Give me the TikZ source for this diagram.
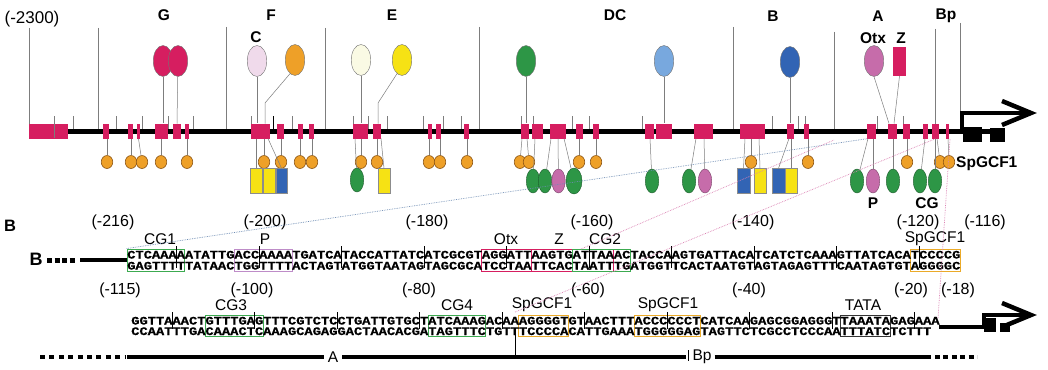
\documentclass[tikz,border=0pt]{standalone}
\usepackage{fontspec}
\setmainfont{Liberation Sans}
\newfontfamily\seqfont{Liberation Mono}[FakeStretch=1.1955,FakeBold=0.6]
\usetikzlibrary{shapes.geometric}
\definecolor{crim}{RGB}{214,30,96}
\definecolor{org}{RGB}{238,160,40}
\definecolor{orgd}{RGB}{140,85,20}
\definecolor{grn}{RGB}{45,150,70}
\definecolor{mauve}{RGB}{198,108,170}
\definecolor{lpink}{RGB}{240,218,235}
\definecolor{cream}{RGB}{250,250,228}
\definecolor{yel}{RGB}{246,226,20}
\definecolor{lblue}{RGB}{120,168,222}
\definecolor{blu}{RGB}{50,100,180}
\definecolor{gline}{RGB}{125,125,125}
\definecolor{pboxc}{RGB}{190,140,200}
\definecolor{oboxc}{RGB}{235,170,40}
\definecolor{gboxc}{RGB}{60,170,80}
\definecolor{dotblue}{RGB}{110,140,180}
\definecolor{dotpink}{RGB}{220,130,180}
\newcommand\pbx[3]{\node[pb,minimum width={#3pt-#2pt}] (#1) at ({(#2+#3)/2},131) {};}
\newcommand\seqbox[6]{\node[sbx,draw=#2,minimum width={#4pt-#3pt},minimum height=#6pt] (#1) at ({(#3+#4)/2},#5) {};}
\begin{document}
\begin{tikzpicture}[x=1pt,y=-1pt,
 pb/.style={rectangle,fill=crim,inner sep=0pt,minimum height=15pt},
 ell/.style={ellipse,draw=black!55,line width=0.4pt,inner sep=0pt,minimum width=19.5pt,minimum height=31pt},
 orb/.style={ellipse,fill=org,draw=orgd,line width=0.6pt,inner sep=0pt,minimum width=11.5pt,minimum height=13pt},
 gel/.style={ellipse,fill=grn,draw=grn!60!black,line width=0.4pt,inner sep=0pt,minimum width=13.5pt,minimum height=24pt},
 rb/.style={rectangle,draw=black!45,line width=0.4pt,inner sep=0pt,minimum width=12pt,minimum height=25pt},
 cn/.style={draw=gline,line width=0.5pt},
 modl/.style={draw=gline,line width=0.6pt},
 tkl/.style={draw=gline,line width=0.5pt},
 mlab/.style={font=\bfseries\fontsize{15.5}{16}\selectfont,inner sep=0pt},
 plab/.style={font=\fontsize{16}{17}\selectfont,inner sep=0pt},
 flab/.style={font=\fontsize{15.5}{16}\selectfont,inner sep=0pt},
 sq/.style={font=\seqfont\bfseries\fontsize{11.5}{11}\selectfont,inner sep=0pt,anchor=base west},
 sbx/.style={inner sep=0pt,line width=0.9pt,rectangle},
 stk/.style={draw=black,line width=0.7pt},
 dotb/.style={draw=dotblue,line width=0.7pt,densely dotted},
 dotp/.style={draw=dotpink,line width=0.7pt,densely dotted}]
\useasboundingbox (0,0) rectangle (1048,369);
\fill[white] (0,0) rectangle (1048,369);

% ---------- panel A (top) ----------
\node[plab,font=\fontsize{17}{18}\selectfont] (p2300) at (32,19) {(-2300)};
\node[mlab] (mG) at (164,15) {G};
\node[mlab] (mF) at (271,15) {F};
\node[mlab] (mE) at (392,15) {E};
\node[mlab] (mDC) at (615,15) {DC};
\node[mlab] (mB) at (773,16) {B};
\node[mlab] (mA) at (878,16) {A};
\node[mlab] (mBp) at (946,16) {Bp};

% module boundaries
\foreach \x/\t in {29/28,98/28,226/27,325/28,479/27,733/27,834/32,935/29,960/23}
  \draw[modl] (\x,\t) -- (\x,131);
% small ticks
\foreach \x in {54,73,116,142,168,193,251,292,353,368,387,423,443,461,521,533,572,589,642,772,798,805,877,903}
  \draw[tkl] (\x,116) -- (\x,131);
\draw[line width=0.8pt] (273,116) -- (273,131);

% main line and promoter arrow
\draw[line width=5pt] (29,131) -- (1005,131);
\draw[line width=4pt] (962,133) -- (962,113) -- (1026,113);
\draw[line width=4.5pt,miter limit=20] (1002,101) -- (1031,113) -- (1002,125);
\fill (963,127) rectangle (982,142);
\fill (990,128) rectangle (1005,142);

% boxes on the line
\pbx{b1}{29}{68}
\draw[tkl] (54,116) -- (54,138);
\pbx{b3}{103}{109}
\pbx{b4}{128}{133}
\pbx{b5}{137}{140}
\pbx{b6}{155}{168}
\pbx{b7}{173}{181}
\pbx{b8}{185}{189}
\pbx{b9}{251}{261}
\pbx{b10}{261}{270}
\pbx{b11}{277}{284}
\pbx{b12}{298}{303}
\pbx{b13}{309}{314}
\pbx{b14}{353}{368}
\pbx{b15}{373}{381}
\pbx{b16}{428}{432}
\pbx{b17}{436}{441}
\pbx{b18}{464}{469}
\pbx{b19}{521}{529}
\pbx{b20}{532}{543}
\pbx{b21}{550}{566}
\pbx{b22}{576}{583}
\pbx{b23}{593}{599}
\pbx{b24}{645}{654}
\pbx{b25}{656}{672}
\pbx{b26}{694}{713}
\pbx{b27}{740}{765}
\pbx{b28}{787}{794}
\pbx{b29}{804}{809}
\pbx{b30}{867}{876}
\pbx{b31}{888}{897}
\pbx{b32}{903}{910}
\pbx{b33}{923}{928}
\pbx{b34}{932}{939}
\pbx{b35}{946}{949}

% upper factors
\node[ell,fill=crim] (eG1) at (163,61) {};
\node[ell,fill=crim] (eG2) at (178,61) {};
\node[mlab] (lC) at (256,37) {C};
\node[ell,fill=lpink] (eC) at (257,61) {};
\node[ell,fill=org] (eF) at (295,60) {};
\node[ell,fill=cream] (eE1) at (361,60) {};
\node[ell,fill=yel] (eE2) at (402,60) {};
\node[ell,fill=grn] (eD1) at (526,61) {};
\node[ell,fill=lblue] (eD2) at (664,61) {};
\node[ell,fill=blu] (eB) at (790,62) {};
\node[mlab] (lOtx) at (873,38) {Otx};
\node[ell,fill=mauve] (eO) at (874,61) {};
\node[mlab] (lZ) at (901,38) {Z};
\node[rectangle,fill=crim,inner sep=0pt,minimum width=13pt,minimum height=29pt] (eZ) at (899.5,61.5) {};

\draw[cn] (eG1) -- (eG1 |- b6.north);
\draw[cn] (eG2) -- (177,123.5);
\draw[cn] (eC) -- (eC |- b9.north);
\draw[cn] (eF.250) -- (265,103) -- (265,123.5);
\draw[cn] (eE1) -- (eE1 |- b14.north);
\draw[cn] (eE2.250) -- (378,103) -- (378,123.5);
\draw[cn] (eD1) -- (eD1 |- b19.north);
\draw[cn] (eD2) -- (eD2 |- b25.north);
\draw[cn] (eB) -- (eB |- b28.north);
\draw[cn] (eO.south) -- (889,123.5);
\draw[cn] (eZ.south) -- (894,123.5);

% lower factors
\foreach \n/\x in {o1/107,o2/131,o3/142,o4/161,o5/187,o6/264,o7/281,o8/300,o9/312,o10/361,o11/377,o12/429,o13/440,o14/467,o15/520,o16/529,o17/579,o18/596,o19/751,o20/808,o21/907,o22/940,o23/949}
  \node[orb] (\n) at (\x,162) {};
\node[rb,fill=yel] (rF1) at (256,181) {};
\node[rb,fill=yel] (rF2) at (269,181) {};
\node[rb,fill=blu,minimum width=11pt] (rF3) at (281.5,181) {};
\node[gel] (gE) at (357,180) {};
\node[rb,fill=yel] (rE) at (384,181) {};
\node[gel] (g2) at (533,181) {};
\node[gel] (g3) at (545,181) {};
\node[gel,fill=mauve,draw=mauve!60!black] (m1) at (558.5,181) {};
\node[gel,minimum width=16pt,minimum height=26pt] (g4) at (574,181) {};
\node[gel] (g5) at (652,181) {};
\node[gel] (g6) at (689,181) {};
\node[gel,fill=mauve,draw=mauve!60!black] (m2) at (705,181) {};
\node[rb,fill=blu,minimum width=13pt] (rB1) at (743.5,181) {};
\node[rb,fill=yel] (rB2) at (760,181) {};
\node[rb,fill=blu,minimum width=13pt] (rB3) at (778.5,181) {};
\node[rb,fill=yel,minimum width=12pt] (rB4) at (791,181) {};
\node[gel] (g7) at (857,181) {};
\node[gel,fill=mauve,draw=mauve!60!black] (m3) at (873,181) {};
\node[gel] (g8) at (893,181) {};
\node[gel] (g9) at (920,181) {};
\node[gel] (g10) at (935,181) {};
\node[mlab,anchor=west] (lSp) at (956,164) {SpGCF1};
\node[mlab] (lP) at (873,203) {P};
\node[mlab] (lCG) at (927,203) {CG};

\foreach \o/\b in {o1/b3,o2/b4,o4/b6,o5/b8,o6/b10,o7/b11,o8/b12,o9/b13,o10/b14,o11/b15,o12/b16,o13/b17,o14/b18,o17/b22,o18/b23,o19/b27,o20/b29,o21/b32}
  \draw[cn] (\o |- \b.south) -- (\o);
\draw[cn] (b5.south) -- (o3);
\draw[cn] (rF1 |- b9.south) -- (rF1.north);
\draw[cn] (268,138.5) -- (rF3.north);
\draw[cn] (355,138.5) -- (gE);
\draw[cn] (381,138.5) -- (rE.north);
\draw[cn] (522,138.5) -- (o15);
\draw[cn] (527,138.5) -- (o16);
\draw[cn] (535,138.5) -- (g2);
\draw[cn] (551,138.5) -- (g3);
\draw[cn] (558,138.5) -- (m1);
\draw[cn] (564,138.5) -- (g4);
\draw[cn] (650,138.5) -- (g5);
\draw[cn] (696,138.5) -- (g6);
\draw[cn] (704,138.5) -- (m2);
\draw[cn] (745,138.5) -- (rB1.north);
\draw[cn] (759,138.5) -- (rB2.north);
\draw[cn] (789,138.5) -- (rB3.north);
\draw[cn] (791,138.5) -- (rB4.north);
\draw[cn] (868,138.5) -- (g7);
\draw[cn] (873,138.5) -- (m3);
\draw[cn] (893,138.5) -- (g8);
\draw[cn] (925,138.5) -- (g9);
\draw[cn] (935,138.5) -- (g10);
\draw[cn] (937,138.5) -- (o22);
\draw[cn] (948,138.5) -- (o23);

% ---------- panel B (sequence) ----------
\node[mlab,font=\bfseries\fontsize{16.5}{17}\selectfont] (panB) at (10,226) {B};
\node[mlab,font=\bfseries\fontsize{18}{18}\selectfont] (rowB) at (36,259) {B};
\draw[line width=5pt,dash pattern=on 5pt off 2.5pt] (47,260) -- (76,260);
\draw[line width=4pt] (80,260) -- (127,260);

% row 1 boxes
\seqbox{cg1}{gboxc}{127}{184.75}{260}{22}
\seqbox{bxP}{pboxc}{234.25}{292}{260}{22}
\seqbox{bxOtx}{crim}{481.75}{531.25}{260}{22}
\seqbox{bxZ}{crim}{531.25}{613.75}{260}{22}
\seqbox{cg2}{gboxc}{572.5}{630.25}{260}{22}
\seqbox{sp1}{oboxc}{910.75}{960.25}{260}{22}
% row 1 sequence
\node[sq] (s1t) at (127,258.5) {CTCAAAAATATTGACCAAAATGATCATACCATTATCATCGCGTAGGATTAAGTGATTAAACTACCAAGTGATTACATCATCTCAAAGTTATCACATCCCCG};
\node[sq] (s1b) at (127,269.5) {GAGTTTTTATAACTGGTTTTACTAGTATGGTAATAGTAGCGCATCCTAATTCACTAATTTGATGGTTCACTAATGTAGTAGAGTTTCAATAGTGTAGGGGC};
\foreach \i in {6,16,...,96} \draw[stk] ({127+\i*8.25},246) -- ({127+\i*8.25},268);
% row 1 labels
\foreach \n/\x/\t in {q216/113/(-216),q200/265/(-200),q180/427/(-180),q160/592/(-160),q140/753/(-140),q120/918/(-120),q116/985/(-116)}
  \node[plab] (\n) at (\x,222) {\t};
\foreach \n/\x/\t in {fCG1/160/CG1,fP/265/P,fOtx/506/Otx,fZ/559/Z,fCG2/605/CG2,fSp1/935/SpGCF1}
  \node[flab] (\n) at (\x,239) {\t};

% row 2 boxes
\seqbox{cg3}{gboxc}{205.25}{263}{325.5}{21}
\seqbox{cg4}{gboxc}{428}{485.75}{325.5}{21}
\seqbox{sp2}{oboxc}{518.75}{568.25}{325.5}{21}
\seqbox{sp3}{oboxc}{634.25}{700.25}{325.5}{21}
\seqbox{tata}{black!80}{840.5}{890}{325.5}{21}
% row 2 sequence
\node[sq] (s2t) at (131,324.5) {GGTTAAACTGTTTGAGTTTCGTCTCCTGATTGTGCTATCAAAGACAAAGGGGTGTAACTTTACCCCCCTCATCAAGAGCGGAGGGTTAAATAGAGAAA};
\node[sq] (s2b) at (131,335) {CCAATTTGACAAACTCAAAGCAGAGGACTAACACGATAGTTTCTGTTTCCCCACATTGAAATGGGGGAGTAGTTCTCGCCTCCCAATTTATCTCTTT};
\foreach \i in {5,15,...,95} \draw[stk] ({131+\i*8.25},312) -- ({131+\i*8.25},329);
\foreach \n/\x/\t in {r115/120/(-115),r100/252/(-100),r80/419/(-80),r60/588/(-60),r40/749/(-40),r20/911/(-20),r18/958/(-18)}
  \node[plab] (\n) at (\x,290) {\t};
\foreach \n/\x/\t in {fCG3/231/CG3,fCG4/457/CG4,fSp2/542/SpGCF1,fSp3/668/SpGCF1,fTATA/863/TATA}
  \node[flab] (\n) at (\x,305) {\t};
% row 2 promoter arrow
\draw[line width=4pt] (939,327) -- (992,327);
\draw[line width=4pt] (984,329) -- (984,315) -- (1026,315);
\draw[line width=4.5pt,miter limit=20] (1002,303) -- (1031,315) -- (1002,327);
\fill (984,318) rectangle (996,332);
\fill (1000,323) rectangle (1010,332);

% row 3 module bar
\node[flab,inner sep=4pt] (nA) at (333,357) {A};
\node[flab,inner sep=3pt] (nBp) at (702,357) {Bp};
\draw[line width=4.5pt,dash pattern=on 5pt off 4.4pt] (40,357) -- (125,357);
\draw[line width=4.5pt] (127,357) -- (nA.west);
\draw[line width=4.5pt] (nA.east) -- (686,357);
\draw[line width=1pt] (515,328) -- (515,357);
\draw[line width=1pt] (688,350) -- (688,361);
\draw[line width=4.5pt] (nBp.east) -- (931,357);
\draw[line width=4.5pt,dash pattern=on 5pt off 3.4pt] (935,357) -- (977,357);

% dotted mapping lines
\draw[dotb] (cg1.north west) -- (b30.south west);
\draw[dotp] (515,312) -- (b34.south);
\draw[dotp] (581,249) -- (834,140);
\draw[dotp] (950,139) -- (938,318);
\end{tikzpicture}
\end{document}
